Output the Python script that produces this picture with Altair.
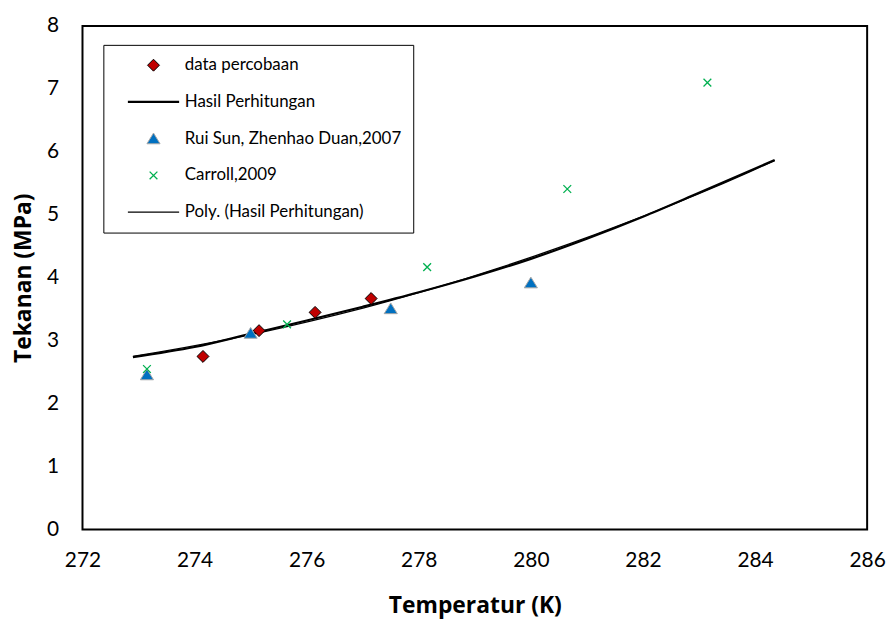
import altair as alt
import pandas as pd

# ---- data ----
perc_T = [274.15, 275.15, 276.15, 277.15]
perc_P = [2.75, 3.16, 3.45, 3.67]

rui_T = [273.15, 275.0, 277.5, 280.0]
rui_P = [2.46, 3.12, 3.51, 3.92]

car_T = [273.15, 275.65, 278.15, 280.65, 283.15]
car_P = [2.55, 3.26, 4.17, 5.41, 7.10]

hasil_T = [272.9, 274.0, 275.0, 276.0, 277.0, 278.0, 279.0, 280.0, 281.0, 282.0, 283.0, 284.35]
hasil_P = [2.74, 2.90, 3.11, 3.32, 3.54, 3.77, 4.02, 4.30, 4.62, 4.97, 5.35, 5.87]

series_names = [
    "data percobaan",
    "Hasil Perhitungan",
    "Rui Sun, Zhenhao Duan,2007",
    "Carroll,2009",
    "Poly. (Hasil Perhitungan)",
]

x_ticks = [272, 274, 276, 278, 280, 282, 284, 286]
y_ticks = [0, 1, 2, 3, 4, 5, 6, 7, 8]

# ---- tables ----
points = pd.concat([
    pd.DataFrame({"T": perc_T, "P": perc_P, "series": series_names[0]}),
    pd.DataFrame({"T": rui_T, "P": rui_P, "series": series_names[2]}),
    pd.DataFrame({"T": car_T, "P": car_P, "series": series_names[3]}),
], ignore_index=True)
hasil = pd.DataFrame({"T": hasil_T, "P": hasil_P, "series": series_names[1]})

# ---- styling scales (shared, merged into one legend) ----
DIAMOND = "M0,-1L1,0L0,1L-1,0Z"
TRIANGLE = "M0,-0.95L1.1,0.85L-1.1,0.85Z"
XMARK = "M-0.65,-0.65L0.65,0.65M-0.65,0.65L0.65,-0.65"
LINE = "M-4.3,0L4.3,0"

shape_scale = alt.Scale(domain=series_names, range=[DIAMOND, LINE, TRIANGLE, XMARK, LINE])
fill_scale = alt.Scale(domain=series_names,
                       range=["#C00000", "transparent", "#0070C0", "transparent", "transparent"])
stroke_scale = alt.Scale(domain=series_names,
                         range=["#000000", "#000000", "#A6A6A6", "#00B050", "#000000"])
sw_scale = alt.Scale(type="ordinal", domain=series_names, range=[1, 2.2, 1, 1.3, 1.3])

legend = alt.Legend(
    title=None, orient="none", legendX=21, legendY=19,
    strokeColor="black", padding=12,
    labelFont="Lato", labelFontSize=17, labelColor="black", labelLimit=400,
    symbolSize=144, symbolOpacity=1, symbolOffset=30, labelOffset=23,
    rowPadding=19, fillColor="white",
)

x_enc = alt.X("T:Q", scale=alt.Scale(domain=[272, 286], nice=False, zero=False),
              axis=alt.Axis(values=x_ticks, title="Temperatur (K)", labelPadding=20,
                            labelFlush=False, titleY=77, titleBaseline="middle", format="d"))
y_enc = alt.Y("P:Q", scale=alt.Scale(domain=[0, 8], nice=False),
              axis=alt.Axis(values=y_ticks, title="Tekanan (MPa)", labelPadding=24,
                            labelFlush=False, titleX=-59, titleBaseline="middle", format="d"))

common = dict(
    shape=alt.Shape("series:N", scale=shape_scale, legend=legend),
    fill=alt.Fill("series:N", scale=fill_scale, legend=legend),
    stroke=alt.Stroke("series:N", scale=stroke_scale, legend=legend),
    strokeWidth=alt.StrokeWidth("series:N", scale=sw_scale, legend=legend),
)

hasil_line = alt.Chart(hasil).mark_line(interpolate="monotone").encode(
    x=x_enc, y=y_enc,
    stroke=common["stroke"], strokeWidth=common["strokeWidth"],
)

poly_line = alt.Chart(hasil).transform_regression(
    "T", "P", method="poly", order=2
).transform_calculate(
    series=f"'{series_names[4]}'"
).mark_line().encode(
    x="T:Q", y="P:Q",
    stroke=common["stroke"], strokeWidth=common["strokeWidth"],
)

pts = alt.Chart(points).mark_point(filled=True, opacity=1, size=144).encode(
    x="T:Q", y="P:Q", **common,
)

chart = alt.layer(hasil_line, poly_line, pts).properties(
    width=790, height=507,
    autosize=alt.AutoSizeParams(type="none"),
    padding={"left": 75, "top": 16, "right": 20, "bottom": 92},
).configure_view(
    stroke="black", strokeWidth=2,
).configure_axis(
    domain=False, ticks=False, grid=False,
    labelFont="Lato", labelFontSize=21, labelColor="black",
    titleFont="Open Sans", titleFontSize=23, titleFontWeight="bold", titleColor="black",
)

chart.save("out.html", embed_options={"renderer": "svg", "actions": False})
